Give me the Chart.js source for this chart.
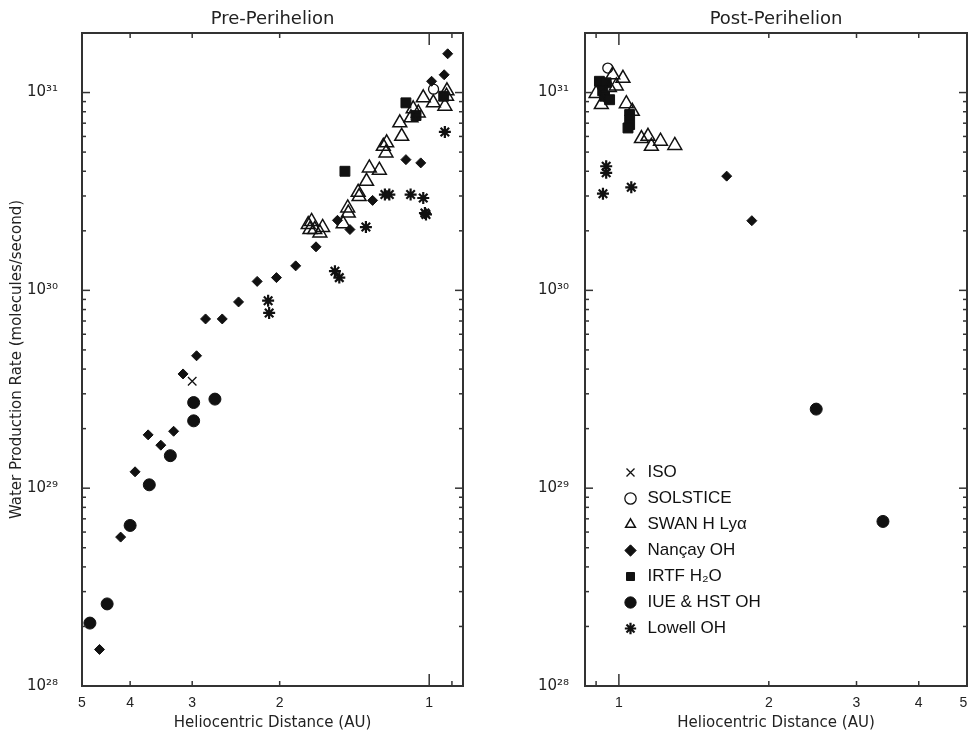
<!DOCTYPE html>
<html>
<head>
<meta charset="utf-8">
<script src="https://cdn.jsdelivr.net/npm/chart.js@4.4.1/dist/chart.umd.min.js"></script>
<style>
  body { margin: 0; background: #fff; width: 969px; height: 736px; overflow: hidden; position: relative; }
  canvas { position: absolute; top: 0; }
  #pre { left: 0; }
  #post { left: 480px; }
</style>
</head>
<body>
<canvas id="pre" width="480" height="736"></canvas>
<canvas id="post" width="489" height="736"></canvas>
<script>
/*** values: [heliocentric distance (AU), water production (molecules/s)] ***/
const isoPre = [[3.00, 3.47e29]];
const solsticePre = [[0.98, 1.04e31]];
const swanPre = [
  [1.028, 9.4e30], [0.981, 8.87e30], [0.930, 8.53e30], [0.923, 9.58e30], [0.921, 1.02e31],
  [1.077, 8.28e30], [1.052, 7.89e30], [1.088, 7.45e30], [1.146, 7.03e30], [1.136, 6.01e30],
  [1.218, 5.57e30], [1.237, 5.35e30], [1.222, 4.95e30], [1.32, 4.16e30], [1.26, 4.05e30],
  [1.337, 3.56e30], [1.39, 3.13e30], [1.384, 2.98e30], [1.459, 2.61e30], [1.455, 2.46e30],
  [1.49, 2.17e30], [1.752, 2.15e30], [1.725, 2.23e30], [1.738, 2.03e30], [1.70, 2.03e30],
  [1.639, 2.08e30], [1.66, 1.95e30]
];
const nancayPre = [
  [4.61, 1.53e28], [4.18, 5.66e28], [3.91, 1.21e29], [3.68, 1.86e29], [3.47, 1.65e29],
  [3.27, 1.94e29], [3.13, 3.78e29], [2.94, 4.67e29], [2.82, 7.17e29], [2.61, 7.17e29],
  [2.42, 8.74e29], [2.22, 1.11e30], [2.03, 1.16e30], [1.857, 1.33e30], [1.69, 1.66e30],
  [1.53, 2.26e30], [1.444, 2.03e30], [1.30, 2.85e30], [1.114, 4.58e30], [1.04, 4.41e30],
  [0.989, 1.14e31], [0.933, 1.23e31], [0.918, 1.57e31]
];
const irtfPre = [[1.478, 4.0e30], [1.114, 8.87e30], [1.063, 7.65e30], [0.935, 9.58e30]];
const iuePre = [
  [4.82, 2.08e28], [4.45, 2.60e28], [4.00, 6.48e28], [3.66, 1.04e29],
  [3.32, 1.46e29], [2.98, 2.19e29], [2.98, 2.71e29], [2.70, 2.82e29]
];
const lowellPre = [
  [2.11, 8.87e29], [2.10, 7.69e29], [1.548, 1.25e30], [1.517, 1.16e30], [1.341, 2.09e30],
  [1.228, 3.05e30], [1.203, 3.05e30], [1.09, 3.05e30], [1.028, 2.93e30], [1.02, 2.46e30],
  [1.015, 2.42e30], [0.930, 6.32e30]
];

const isoPost = [];
const solsticePost = [[0.95, 1.33e31]];
const swanPost = [
  [0.90, 9.9e30], [0.922, 8.69e30], [0.972, 1.23e31], [1.019, 1.18e31], [0.957, 1.06e31],
  [0.988, 1.08e31], [1.035, 8.79e30], [1.064, 8.04e30], [1.11, 5.85e30], [1.144, 6.01e30],
  [1.162, 5.35e30], [1.212, 5.68e30], [1.295, 5.40e30]
];
const nancayPost = [[1.646, 3.78e30], [1.849, 2.25e30]];
const irtfPost = [
  [0.914, 1.14e31], [0.943, 1.12e31], [0.928, 1.02e31], [0.936, 9.58e30], [0.958, 9.2e30],
  [1.051, 7.74e30], [1.051, 6.89e30], [1.043, 6.62e30]
];
const iuePost = [[2.49, 2.51e29], [3.39, 6.79e28]];
const lowellPost = [[0.929, 3.08e30], [0.943, 4.24e30], [0.943, 3.93e30], [1.059, 3.32e30]];

const seriesNames = ['ISO', 'SOLSTICE', 'SWAN H Ly\u03b1', 'Nan\u00e7ay OH', 'IRTF H\u2082O', 'IUE & HST OH', 'Lowell OH'];
const xTickValues = [5, 4, 3, 2, 1];
const xTickLabelsPre = ['5', '4', '3', '2', '1'];
// the "5" of the post panel sits on the window edge, a trailing en space keeps it inside
const xTickLabelsPost = ['5\u2002', '4', '3', '2', '1'];
const yTickValues = [1e28, 1e29, 1e30, 1e31];
const yTickLabels = ['10\u00b2\u2078', '10\u00b2\u2079', '10\u00b3\u2070', '10\u00b3\u00b9'];

/*** marker look per series ***/
const ink = '#111';
const markers = [
  { pointStyle: 'crossRot', pointRadius: 6, borderWidth: 1.3, backgroundColor: 'rgba(0,0,0,0)' },
  { pointStyle: 'circle', pointRadius: 5, borderWidth: 1.3, backgroundColor: 'rgba(0,0,0,0)' },
  { pointStyle: 'triangle', pointRadius: 8, borderWidth: 1.5, backgroundColor: 'rgba(0,0,0,0)' },
  { pointStyle: 'rectRot', pointRadius: 5, borderWidth: 1, backgroundColor: ink },
  { pointStyle: 'rect', pointRadius: 7, borderWidth: 1, backgroundColor: ink },
  { pointStyle: 'circle', pointRadius: 6, borderWidth: 1, backgroundColor: ink },
  { pointStyle: 'star', pointRadius: 6, borderWidth: 2.2, backgroundColor: ink }
];

const sans = "'Liberation Sans', Arial, sans-serif";
const wide = "'DejaVu Sans', sans-serif";

// minor tick positions for the frame (2..9 of each decade)
const yMinor = [];
for (let d = 28; d <= 31; d++) {
  for (let m = 2; m <= 9; m++) {
    if (m * Math.pow(10, d) < 2e31) yMinor.push(m * Math.pow(10, d));
  }
}
const xMajor = [1];
const xMinor = [0.9, 2, 3, 4];

// IDL style box: frame plus inward ticks on all four sides
const frameTicks = {
  id: 'frameTicks',
  afterDraw(chart) {
    const { ctx, chartArea: a, scales: { x, y } } = chart;
    ctx.save();
    ctx.strokeStyle = '#333';
    ctx.lineWidth = 1.5;
    const seg = (x1, y1, x2, y2) => { ctx.beginPath(); ctx.moveTo(x1, y1); ctx.lineTo(x2, y2); ctx.stroke(); };
    const xt = (v, len) => {
      const px = x.getPixelForValue(v);
      seg(px, a.bottom, px, a.bottom - len);
      seg(px, a.top, px, a.top + len);
    };
    const yt = (v, len) => {
      const py = y.getPixelForValue(v);
      seg(a.left, py, a.left + len, py);
      seg(a.right, py, a.right - len, py);
    };
    xMajor.forEach(v => xt(v, 12));
    xMinor.forEach(v => xt(v, 5));
    yTickValues.forEach(v => yt(v, 8));
    yMinor.forEach(v => yt(v, 4));
    ctx.lineWidth = 2;
    ctx.strokeRect(a.left, a.top, a.width, a.height);
    ctx.restore();
  }
};

// put the legend inside the post-perihelion box, lower left
const legendPlacer = {
  id: 'legendPlacer',
  afterLayout(chart) {
    const lg = chart.legend;
    if (!lg) return;
    lg.left = 133;
    lg.top = 455;
    lg.right = lg.left + 300;
    lg.bottom = lg.top + 220;
  }
};

function makeDatasets(lists) {
  return lists.map((pts, i) => Object.assign({
    label: seriesNames[i],
    data: pts.map(p => ({ x: p[0], y: p[1] })),
    borderColor: ink
  }, markers[i]));
}

function makeChart(id, title, lists, opt) {
  return new Chart(document.getElementById(id), {
    type: 'scatter',
    data: { datasets: makeDatasets(lists) },
    options: {
      responsive: false,
      animation: false,
      layout: { autoPadding: false, padding: { left: 0, right: opt.padRight, top: 0, bottom: 0 } },
      plugins: {
        title: {
          display: true, text: title, color: '#222', fullSize: false,
          font: { family: wide, size: 18, weight: 'normal' },
          padding: { top: 9, bottom: 2.4 }
        },
        legend: opt.legend,
        tooltip: { enabled: false }
      },
      scales: {
        x: {
          type: 'logarithmic', reverse: opt.reverse, min: 0.855, max: 5,
          afterBuildTicks: s => { s.ticks = xTickValues.map(v => ({ value: v })); },
          afterFit: s => { s.height = 50; s.paddingLeft = 0; s.paddingRight = 0; },
          grid: { display: false, drawTicks: false },
          border: { display: false },
          ticks: {
            color: '#222', padding: 9, maxRotation: 0, autoSkip: false,
            font: { family: sans, size: 14 },
            callback: (v, i) => opt.xLabels[i]
          },
          title: {
            display: true, text: 'Heliocentric Distance (AU)', color: '#222',
            font: { family: wide, size: 15 }, padding: { top: 2, bottom: 4 }
          }
        },
        y: {
          type: 'logarithmic', min: 1e28, max: 2e31,
          afterBuildTicks: s => { s.ticks = yTickValues.map(v => ({ value: v })); },
          afterFit: s => { s.width = opt.yWidth; s.paddingTop = 0; s.paddingBottom = 0; },
          grid: { display: false, drawTicks: false },
          border: { display: false },
          ticks: {
            color: '#222', padding: opt.yPad,
            font: { family: wide, size: 15 },
            callback: (v, i) => yTickLabels[i]
          },
          title: {
            display: opt.yTitle, text: 'Water Production Rate (molecules/second)', color: '#222',
            font: { family: wide, size: 15 }, padding: { top: 8, bottom: 0 }
          }
        }
      }
    },
    plugins: opt.placeLegend ? [frameTicks, legendPlacer] : [frameTicks]
  });
}

makeChart('pre', 'Pre-Perihelion',
  [isoPre, solsticePre, swanPre, nancayPre, irtfPre, iuePre, lowellPre],
  { reverse: true, padRight: 17, yWidth: 82, yPad: 24, yTitle: true, placeLegend: false,
    xLabels: xTickLabelsPre, legend: { display: false } });

makeChart('post', 'Post-Perihelion',
  [isoPost, solsticePost, swanPost, nancayPost, irtfPost, iuePost, lowellPost],
  { reverse: false, padRight: 2, yWidth: 105, yPad: 16, yTitle: false, placeLegend: true,
    xLabels: xTickLabelsPost,
    legend: {
      display: true, position: 'chartArea', align: 'start',
      labels: {
        usePointStyle: true, boxHeight: 8, padding: 9, color: '#111',
        font: { family: sans, size: 17 }
      }
    } });
</script>
</body>
</html>
